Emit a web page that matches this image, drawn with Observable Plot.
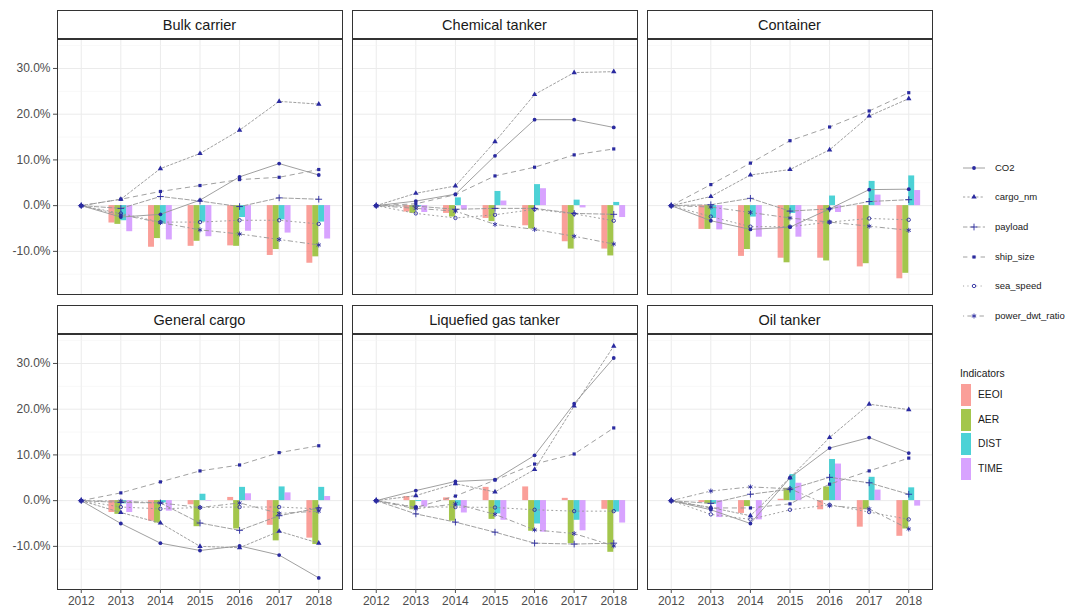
<!DOCTYPE html>
<html><head><meta charset="utf-8">
<script src="https://cdn.jsdelivr.net/npm/d3@7"></script>
<script src="https://cdn.jsdelivr.net/npm/@observablehq/plot@0.6"></script>
<style>
body{margin:0;background:#fff;font-family:"Liberation Sans",Arial,sans-serif;}
#root{position:relative;width:1072px;height:610px;overflow:hidden;background:#fff;}
.strip{position:absolute;box-sizing:border-box;border:1px solid #333;background:#fff;color:#1a1a1a;font-size:14.5px;display:flex;align-items:center;justify-content:center;}
.leg{position:absolute;color:#1a1a1a;white-space:nowrap;line-height:1;}
</style></head><body><div id="root"></div>
<script>
// ---------- data ----------
const years = [2012, 2013, 2014, 2015, 2016, 2017, 2018];
const barYears = [2013, 2014, 2015, 2016, 2017, 2018];
const shipTypes = ["Bulk carrier", "Chemical tanker", "Container", "General cargo", "Liquefied gas tanker", "Oil tanker"];
const drivers = ["CO2", "cargo_nm", "payload", "ship_size", "sea_speed", "power_dwt_ratio"];
const indicators = ["EEOI", "AER", "DIST", "TIME"];
const yTickValues = [-10, 0, 10, 20, 30];

// driver rows follow `drivers` order, values for 2012..2018 (%)
const bulkCarrierDrivers = [
  [0, -2.5, -1.9, 1.2, 6.3, 9.2, 6.7],
  [0, 1.4, 8.1, 11.4, 16.5, 22.8, 22.2],
  [0, -0.6, 2.0, 1.0, -0.2, 1.7, 1.4],
  [0, 1.4, 3.1, 4.4, 5.7, 6.2, 7.9],
  [0, -1.7, -3.6, -3.6, -3.2, -3.2, -4.0],
  [0, -2.0, -3.7, -5.3, -6.2, -7.4, -8.6]
];
const chemicalTankerDrivers = [
  [0, 1.0, 2.5, 10.9, 18.8, 18.8, 17.1],
  [0, 2.7, 4.3, 14.0, 24.3, 29.1, 29.3],
  [0, -0.1, -0.8, -0.6, -0.6, -1.7, -1.9],
  [0, 0.4, 2.4, 6.5, 8.4, 11.1, 12.4],
  [0, -1.7, -2.7, -2.0, -0.8, -1.8, -3.3],
  [0, -0.6, -1.2, -4.1, -5.2, -6.7, -8.4]
];
const containerDrivers = [
  [0, -3.3, -5.2, -4.7, -0.7, 3.5, 3.6],
  [0, 2.0, 6.7, 7.9, 12.2, 19.6, 23.4],
  [0, 0.2, 1.6, -1.2, -0.7, 0.9, 1.3],
  [0, 4.6, 9.3, 14.2, 17.2, 20.7, 24.7],
  [0, -2.4, -4.6, -4.6, -3.6, -2.8, -3.1],
  [0, -0.3, -1.5, -2.7, -3.6, -4.5, -5.4]
];
const generalCargoDrivers = [
  [0, -5.0, -9.3, -10.9, -9.9, -11.9, -16.9],
  [0, -2.6, -4.9, -10.0, -10.3, -6.7, -9.3],
  [0, -0.4, -0.5, -4.9, -6.5, -3.3, -1.6],
  [0, 1.7, 4.1, 6.5, 7.8, 10.5, 12.0],
  [0, -1.4, -1.8, -1.5, -1.4, -1.4, -1.8],
  [0, -0.1, -0.5, -1.5, -0.5, -2.8, -2.3]
];
const liquefiedGasTankerDrivers = [
  [0, 2.2, 4.2, 4.6, 9.9, 21.2, 31.2],
  [0, 1.1, 3.7, 1.9, 6.8, 20.7, 33.8],
  [0, -2.9, -4.7, -6.9, -9.3, -9.5, -9.3],
  [0, -1.5, 1.0, 4.5, 8.0, 10.2, 15.9],
  [0, -1.4, -1.4, -1.5, -2.0, -2.3, -2.3],
  [0, -1.8, -0.7, -3.0, -6.4, -7.2, -9.9]
];
const oilTankerDrivers = [
  [0, -2.0, -5.0, 5.0, 11.5, 13.8, 10.4],
  [0, -1.5, -3.3, 5.0, 13.8, 21.1, 19.9],
  [0, -0.6, 1.4, 2.5, 5.1, 3.9, 1.4],
  [0, -1.6, -1.6, -0.7, 3.6, 6.5, 9.3],
  [0, -3.0, -4.1, -2.0, -0.9, -2.5, -4.1],
  [0, 2.1, 3.0, 2.6, -1.1, -1.8, -6.2]
];

// indicator rows follow `indicators` order, values for 2013..2018 (%)
const bulkCarrierIndicators = [
  [-3.8, -9.1, -8.9, -8.8, -10.9, -12.6],
  [-4.1, -7.2, -7.8, -8.9, -9.6, -11.2],
  [-3.3, -4.0, -3.6, -2.6, -3.1, -3.6],
  [-5.7, -7.5, -6.8, -5.6, -6.0, -7.3]
];
const chemicalTankerIndicators = [
  [-1.4, -1.7, -2.8, -4.4, -7.9, -9.5],
  [-1.7, -2.5, -3.5, -5.1, -9.5, -11.0],
  [-0.2, 1.7, 3.1, 4.6, 1.2, 0.7],
  [-1.5, -0.9, 1.0, 3.7, -0.5, -2.6]
];
const containerIndicators = [
  [-5.2, -11.1, -11.5, -11.5, -13.4, -16.0],
  [-5.2, -9.6, -12.5, -12.1, -12.7, -14.8],
  [-2.8, -2.5, -1.7, 2.1, 5.3, 6.5],
  [-5.3, -6.9, -6.9, -1.5, 2.3, 3.3]
];
const generalCargoIndicators = [
  [-2.6, -4.5, -0.9, 0.7, -5.4, -8.2],
  [-3.0, -4.9, -5.7, -6.2, -8.8, -9.6],
  [-0.7, -0.5, 1.4, 2.9, 3.0, 2.9],
  [-2.6, -2.3, -0.1, 1.5, 1.7, 0.9]
];
const liquefiedGasTankerIndicators = [
  [0.9, 0.6, 2.9, 3.0, 0.5, -1.9],
  [-2.0, -4.5, -4.1, -6.7, -9.4, -11.3],
  [-0.2, -1.2, -2.9, -5.1, -4.3, -2.5],
  [-1.4, -2.7, -4.3, -6.9, -6.6, -4.9]
];
const oilTankerIndicators = [
  [-0.4, -2.8, 0.3, -2.0, -5.8, -7.8],
  [-0.7, -1.3, 2.7, 3.0, -2.0, -6.2],
  [-0.8, 0.0, 5.7, 9.0, 5.1, 2.8],
  [-3.7, -4.2, 3.8, 8.0, 2.3, -1.2]
];

const driverData = [bulkCarrierDrivers, chemicalTankerDrivers, containerDrivers, generalCargoDrivers, liquefiedGasTankerDrivers, oilTankerDrivers];
const indicatorData = [bulkCarrierIndicators, chemicalTankerIndicators, containerIndicators, generalCargoIndicators, liquefiedGasTankerIndicators, oilTankerIndicators];

// ---------- styles ----------
const indicatorColors = ["#F8766D", "#7CAE00", "#00BFC4", "#C77CFF"];
const pointColor = "#2a2aa0";
const lineColor = "#959595";
const driverDash = {CO2: undefined, cargo_nm: "2.2,2.2", payload: "4.4,2.2", ship_size: "4.4,4.4", sea_speed: "1.1,3.3", power_dwt_ratio: "1.1,3.3,4.4,3.3"};
const driverSymbol = {
  CO2: {symbol: "circle", filled: true, r: 1.9},
  cargo_nm: {symbol: "triangle", filled: true, r: 2.0},
  payload: {symbol: "plus", filled: false, r: 2.3},
  ship_size: {symbol: "square", filled: true, r: 1.8},
  sea_speed: {symbol: "circle", filled: false, r: 1.7},
  power_dwt_ratio: {symbol: "asterisk", filled: false, r: 2.3}
};

const allVals = driverData.flat(2).concat(indicatorData.flat(2), [0]);
const [lo, hi] = d3.extent(allVals);
const pad = (hi - lo) * 0.05;
const yDomain = [lo - pad, hi + pad];
const xDomain = [years[0] - 0.6, years[years.length - 1] + 0.6];
const minorTicks = d3.range(-15, 40, 10).filter(v => v > yDomain[0] && v < yDomain[1]);

const root = document.getElementById("root");
const colX = [57, 352, 647], rowY = [39, 334];
const panelW = 285, panelH = 255;

shipTypes.forEach((ship, i) => {
  const col = i % 3, row = Math.floor(i / 3);
  const x0 = colX[col], y0 = rowY[row];
  const ml = col === 0 ? 57 : 1, mr = 1, mt = 1, mb = row === 1 ? 21 : 1;

  const lines = [];
  drivers.forEach((d, k) => years.forEach((yr, j) => lines.push({driver: d, year: yr, value: driverData[i][k][j]})));
  const bars = [];
  indicators.forEach((ind, k) => barYears.forEach((yr, j) => bars.push({indicator: ind, k, year: yr, value: indicatorData[i][k][j]})));

  const marks = [
    Plot.ruleX(years, {stroke: "#ebebeb", strokeWidth: 1}),
    Plot.ruleY(minorTicks, {stroke: "#f3f3f3", strokeWidth: 0.6}),
    Plot.ruleY(yTickValues, {stroke: "#ebebeb", strokeWidth: 1}),
    Plot.rect(bars, {
      x1: d => d.year - 0.3 + d.k * 0.15,
      x2: d => d.year - 0.15 + d.k * 0.15,
      y1: 0, y2: "value", fill: "indicator", fillOpacity: 0.7
    }),
    ...drivers.map(d => Plot.line(lines.filter(r => r.driver === d), {
      x: "year", y: "value", stroke: lineColor, strokeWidth: 0.9, strokeDasharray: driverDash[d]
    })),
    ...drivers.map(d => {
      const s = driverSymbol[d];
      return Plot.dot(lines.filter(r => r.driver === d), {
        x: "year", y: "value", symbol: s.symbol, r: s.r,
        fill: s.filled ? pointColor : "none",
        stroke: s.filled ? "none" : pointColor,
        strokeWidth: s.filled ? 0 : 0.9
      });
    }),
    Plot.frame({stroke: "#333", strokeWidth: 1})
  ];
  if (col === 0) marks.push(Plot.axisY(yTickValues, {
    tickFormat: d => d.toFixed(1) + "%", tickSize: 4, tickPadding: 3, fontSize: 12, color: "#4d4d4d", label: null
  }));
  if (row === 1) marks.push(Plot.axisX(years, {
    tickFormat: d => String(d), tickSize: 4, tickPadding: 3, fontSize: 12, color: "#4d4d4d", label: null
  }));

  const svg = Plot.plot({
    width: panelW + ml + mr, height: panelH + mt + mb,
    marginLeft: ml, marginRight: mr, marginTop: mt, marginBottom: mb,
    x: {domain: xDomain, axis: null},
    y: {domain: yDomain, axis: null},
    color: {domain: indicators, range: indicatorColors},
    style: {fontFamily: "Liberation Sans, Arial, sans-serif", background: "transparent", overflow: "visible"},
    marks
  });
  svg.style.position = "absolute";
  svg.style.left = (x0 - ml) + "px";
  svg.style.top = (y0 - mt) + "px";
  root.appendChild(svg);

  const strip = document.createElement("div");
  strip.className = "strip";
  strip.textContent = ship;
  Object.assign(strip.style, {left: (x0 - 0.5) + "px", top: (y0 - 29) + "px", width: (panelW + 1) + "px", height: "29px"});
  root.appendChild(strip);
});

// ---------- legend: drivers ----------
const symbolMap = {circle: d3.symbolCircle, triangle: d3.symbolTriangle, square: d3.symbolSquare, plus: d3.symbolPlus, asterisk: d3.symbolAsterisk};
drivers.forEach((d, k) => {
  const cy = 167.7 + k * 29.6;
  const s = driverSymbol[d];
  const key = d3.create("svg").attr("width", 24).attr("height", 12)
    .style("position", "absolute").style("left", "962px").style("top", (cy - 6) + "px");
  key.append("line").attr("x1", 1).attr("x2", 23).attr("y1", 6).attr("y2", 6)
    .attr("stroke", lineColor).attr("stroke-width", 0.9).attr("stroke-dasharray", driverDash[d] || null);
  key.append("path").attr("transform", "translate(12,6)")
    .attr("d", d3.symbol(symbolMap[s.symbol], Math.PI * s.r * s.r)())
    .attr("fill", s.filled ? pointColor : "none")
    .attr("stroke", s.filled ? "none" : pointColor).attr("stroke-width", 0.9);
  root.appendChild(key.node());
  const t = document.createElement("div");
  t.className = "leg";
  t.textContent = d;
  Object.assign(t.style, {left: "995px", top: (cy - 5) + "px", fontSize: "9.5px"});
  root.appendChild(t);
});

// ---------- legend: indicators ----------
const title = document.createElement("div");
title.className = "leg";
title.textContent = "Indicators";
Object.assign(title.style, {left: "960px", top: "369px", fontSize: "10.3px"});
root.appendChild(title);
indicators.forEach((ind, k) => {
  const top = 384 + k * 24.6;
  const box = document.createElement("div");
  Object.assign(box.style, {position: "absolute", left: "961px", top: top + "px", width: "10px", height: "22px", background: indicatorColors[k], opacity: 0.7});
  root.appendChild(box);
  const t = document.createElement("div");
  t.className = "leg";
  t.textContent = ind;
  Object.assign(t.style, {left: "978px", top: (top + 6) + "px", fontSize: "10.3px"});
  root.appendChild(t);
});
</script></body></html>
